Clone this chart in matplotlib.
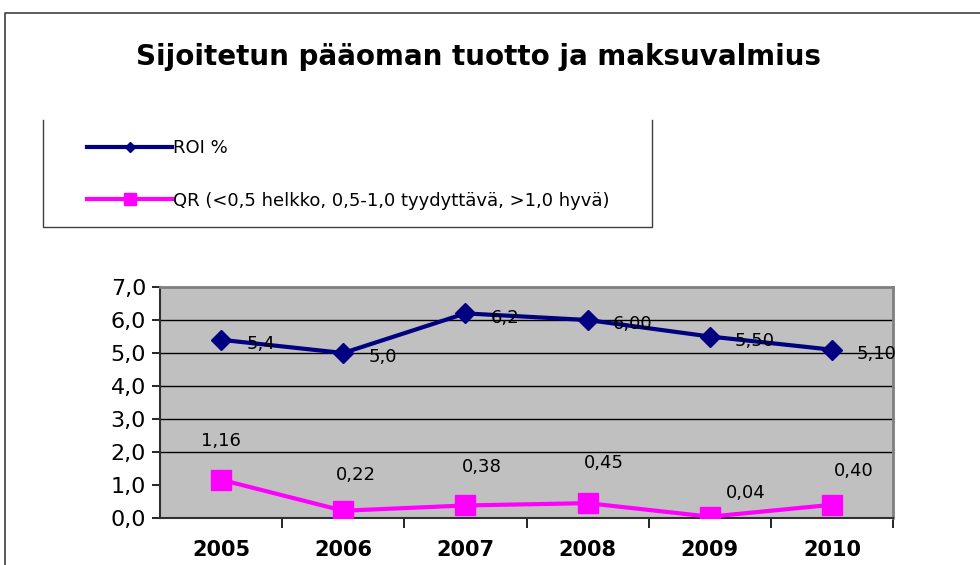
import matplotlib
matplotlib.use('Agg')
import matplotlib.pyplot as plt
from matplotlib.lines import Line2D

years = ['2005', '2006', '2007', '2008', '2009', '2010']
roi = [5.4, 5.0, 6.2, 6.0, 5.5, 5.1]
roi_labels = ['5,4', '5,0', '6,2', '6,00', '5,50', '5,10']
qr = [1.16, 0.22, 0.38, 0.45, 0.04, 0.40]
qr_labels = ['1,16', '0,22', '0,38', '0,45', '0,04', '0,40']
yticks = [0, 1, 2, 3, 4, 5, 6, 7]
ytick_labels = ['0,0', '1,0', '2,0', '3,0', '4,0', '5,0', '6,0', '7,0']
grid_levels = [2, 3, 4, 5, 6]

title = 'Sijoitetun pääoman tuotto ja maksuvalmius'
roi_name = 'ROI %'
qr_name = 'QR (<0,5 helkko, 0,5-1,0 tyydyttävä, >1,0 hyvä)'

plt.rcParams['font.family'] = ['DejaVu Sans']

fig = plt.figure(figsize=(9.8, 5.65), dpi=100)
W, H = 980, 565

def fx(px):
    return px / W

def fy(py):
    return 1 - py / H

# outer frame (top + left only visible)
fig.add_artist(Line2D([fx(5), fx(5), 1.0], [0.0, fy(13), fy(13)],
                      color='#404040', lw=1.2))

fig.text(fx(478), fy(57), title, ha='center', va='center',
         fontsize=20, fontweight='bold', color='black')

# legend box: left, bottom, right sides
fig.add_artist(Line2D([fx(43), fx(43), fx(652), fx(652)],
                      [fy(120), fy(227), fy(227), fy(120)],
                      color='#404040', lw=1.0))

ax = fig.add_axes([fx(160), fy(518), fx(893) - fx(160), fy(287) - fy(518)])
ax.set_facecolor('#C0C0C0')

x = list(range(len(years)))
ax.plot(x, roi, color='#000080', lw=3, marker='D', ms=10, zorder=4)
ax.plot(x, qr, color='#FF00FF', lw=3, marker='s', ms=14, zorder=4)

for lev in grid_levels:
    ax.axhline(lev, color='black', lw=1.0, zorder=1)

for i, lab in enumerate(roi_labels):
    ax.annotate(lab, (x[i], roi[i]), xytext=(18, -3), textcoords='offset points',
                ha='left', va='center', fontsize=13, color='black', zorder=5)

qr_offsets = [(0, 28), (9, 26), (12, 28), (12, 29), (26, 17), (16, 24)]
for i, lab in enumerate(qr_labels):
    dx, dy = qr_offsets[i]
    ax.annotate(lab, (x[i], qr[i]), xytext=(dx, dy), textcoords='offset points',
                ha='center', va='center', fontsize=13, color='black', zorder=5)

ax.set_xlim(-0.5, len(years) - 0.5)
ax.set_ylim(0, 7)
ax.set_yticks(yticks)
ax.set_yticklabels(ytick_labels, fontsize=16)
ax.set_xticks(x)
ax.set_xticklabels(years, fontsize=15, fontweight='bold')
ax.tick_params(axis='x', length=0, pad=16)
ax.tick_params(axis='y', length=6, width=1.2, pad=4)
ax.set_xticks([i + 0.5 for i in x], minor=True)
ax.tick_params(axis='x', which='minor', length=7, width=1.2, direction='out')

for side in ['top', 'right']:
    ax.spines[side].set_color('#808080')
    ax.spines[side].set_linewidth(2)
ax.spines['left'].set_color('#303030')
ax.spines['left'].set_linewidth(1.5)
ax.spines['bottom'].set_color('#303030')
ax.spines['bottom'].set_linewidth(1.5)

# legend
h_roi = Line2D([], [], color='#000080', lw=3, marker='D', ms=5)
h_qr = Line2D([], [], color='#FF00FF', lw=3, marker='s', ms=9)
fig.legend([h_roi, h_qr], [roi_name, qr_name], loc='upper left',
           bbox_to_anchor=(fx(71), fy(123)), frameon=False,
           handlelength=4.7, handletextpad=0.05, labelspacing=1.9,
           prop={'size': 13})

fig.savefig('out.png', dpi=100)
